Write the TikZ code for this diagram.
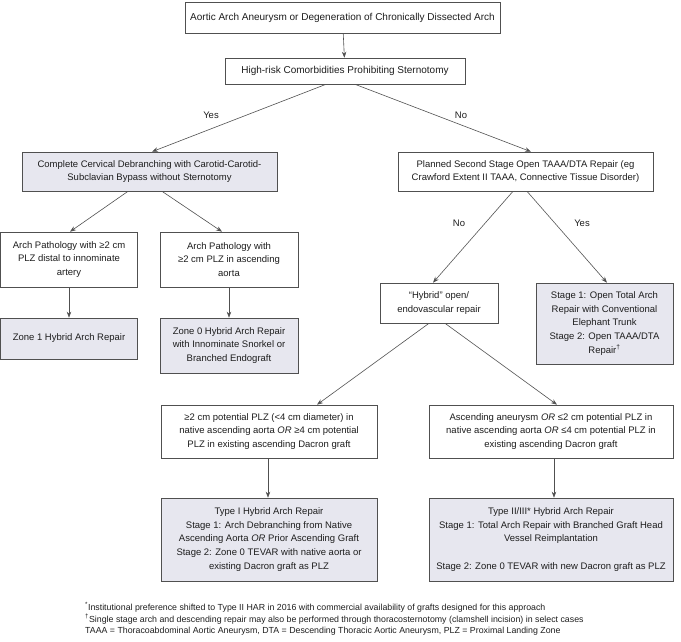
\documentclass[tikz,border=0pt]{standalone}
\usepackage{fontspec}
\setmainfont{Liberation Sans}
\usetikzlibrary{arrows.meta}
\definecolor{boxfill}{RGB}{231,231,239}
\definecolor{linegray}{RGB}{80,80,80}
\definecolor{txt}{RGB}{30,30,30}
\tikzset{
  box/.style={draw=linegray, line width=0.6pt, fill=white, align=center, inner sep=0pt, text=txt,
    font=\fontsize{9.5}{13.6}\selectfont},
  topbox/.style={box, font=\fontsize{10}{13}\selectfont},
  graybox/.style={box, fill=boxfill},
  arr/.style={draw=linegray, line width=0.6pt, -{Stealth[length=6pt,width=4.5pt]}},
  lbl/.style={text=txt, font=\fontsize{9.5}{11}\selectfont, inner sep=0pt},
  foot/.style={text=txt, font=\fontsize{8.8}{12}\selectfont, inner sep=0pt, anchor=west}
}
\begin{document}
\begin{tikzpicture}[x=1pt,y=-1pt]
\useasboundingbox (0,0) rectangle (681,642);
% nodes
\node[topbox, minimum width=315pt, minimum height=31pt] (top) at (342.5,17.5)
  {Aortic Arch Aneurysm or Degeneration of Chronically Dissected Arch};
\node[topbox, minimum width=240pt, minimum height=26pt] (risk) at (345,71)
  {High-risk Comorbidities Prohibiting Sternotomy};
\node[graybox, minimum width=255pt, minimum height=39pt] (complete) at (149.5,171.5)
  {Complete Cervical Debranching with Carotid-Carotid-\\Subclavian Bypass without Sternotomy};
\node[box, minimum width=255pt, minimum height=39pt] (planned) at (525.5,171.5)
  {Planned Second Stage Open TAAA/DTA Repair (eg\\Crawford Extent II TAAA, Connective Tissue Disorder)};
\node[box, minimum width=137pt, minimum height=55pt] (path1) at (69,259.5)
  {Arch Pathology with ≥2 cm\\PLZ distal to innominate\\artery};
\node[box, minimum width=138pt, minimum height=55pt] (path2) at (229,259.5)
  {Arch Pathology with\\≥2 cm PLZ in ascending\\aorta};
\node[graybox, minimum width=137pt, minimum height=41pt] (zone1) at (69,338.5)
  {Zone 1 Hybrid Arch Repair};
\node[graybox, minimum width=138pt, minimum height=55pt] (zone0) at (229,345.5)
  {Zone 0 Hybrid Arch Repair\\with Innominate Snorkel or\\Branched Endograft};
\node[box, minimum width=118pt, minimum height=40pt] (hybrid) at (439,303)
  {“Hybrid” open/\\endovascular repair};
\node[graybox, minimum width=137pt, minimum height=81pt] (stage) at (604.5,323.5)
  {Stage 1: Open Total Arch\\Repair with Conventional\\Elephant Trunk\\Stage 2: Open TAAA/DTA\\Repair\textsuperscript{†}};
\node[box, minimum width=216pt, minimum height=53pt] (lowL) at (269,431.5)
  {≥2 cm potential PLZ (<4 cm diameter) in\\native ascending aorta \textit{OR} ≥4 cm potential\\PLZ in existing ascending Dacron graft};
\node[box, minimum width=244pt, minimum height=53pt] (lowR) at (551,431.5)
  {Ascending aneurysm \textit{OR} ≤2 cm potential PLZ in\\native ascending aorta \textit{OR} ≤4 cm potential PLZ in\\existing ascending Dacron graft};
\node[graybox, minimum width=216pt, minimum height=83pt] (typeI) at (269,539.5)
  {Type I Hybrid Arch Repair\\Stage 1: Arch Debranching from Native\\Ascending Aorta \textit{OR} Prior Ascending Graft\\Stage 2: Zone 0 TEVAR with native aorta or\\existing Dacron graft as PLZ};
\node[graybox, minimum width=244pt, minimum height=83pt] (typeII) at (551,539.5)
  {Type II/III* Hybrid Arch Repair\\Stage 1: Total Arch Repair with Branched Graft Head\\Vessel Reimplantation\\\mbox{}\\Stage 2: Zone 0 TEVAR with new Dacron graft as PLZ};
% connectors
\draw[arr] (top) -- (risk);
\draw[arr] ([xshift=-19pt]risk.south) -- ([xshift=2.5pt]complete.north);
\draw[arr] ([xshift=10pt]risk.south) -- ([xshift=5.5pt]planned.north);
\draw[arr] ([xshift=-21.5pt]complete.south) -- ([xshift=1pt]path1.north);
\draw[arr] ([xshift=12.5pt]complete.south) -- ([xshift=-7pt]path2.north);
\draw[arr] (path1) -- (zone1);
\draw[arr] (path2) -- (zone0);
\draw[arr] ([xshift=-12.5pt]planned.south) -- ([xshift=-6pt]hybrid.north);
\draw[arr] ([xshift=1.5pt]planned.south) -- ([xshift=2.5pt]stage.north);
\draw[arr] ([xshift=-10pt]hybrid.south) -- ([xshift=48pt]lowL.north);
\draw[arr] ([xshift=6pt]hybrid.south) -- ([xshift=6pt]lowR.north);
\draw[arr] ([xshift=-1pt]lowL.south) -- ([xshift=-1pt]typeI.north);
\draw[arr] ([xshift=3pt]lowR.south) -- ([xshift=3pt]typeII.north);
% labels
\node[lbl] (yes1) at (211,115) {Yes};
\node[lbl] (no1) at (461,115) {No};
\node[lbl] (no2) at (459,223) {No};
\node[lbl] (yes2) at (582,223) {Yes};
% footnotes
\node[foot] (f1) at (85,607) {\textsuperscript{*}Institutional preference shifted to Type II HAR in 2016 with commercial availability of grafts designed for this approach};
\node[foot] (f2) at (85,619) {\textsuperscript{†}Single stage arch and descending repair may also be performed through thoracosternotomy (clamshell incision) in select cases};
\node[foot] (f3) at (85,631) {TAAA = Thoracoabdominal Aortic Aneurysm, DTA = Descending Thoracic Aortic Aneurysm, PLZ = Proximal Landing Zone};
\end{tikzpicture}
\end{document}
